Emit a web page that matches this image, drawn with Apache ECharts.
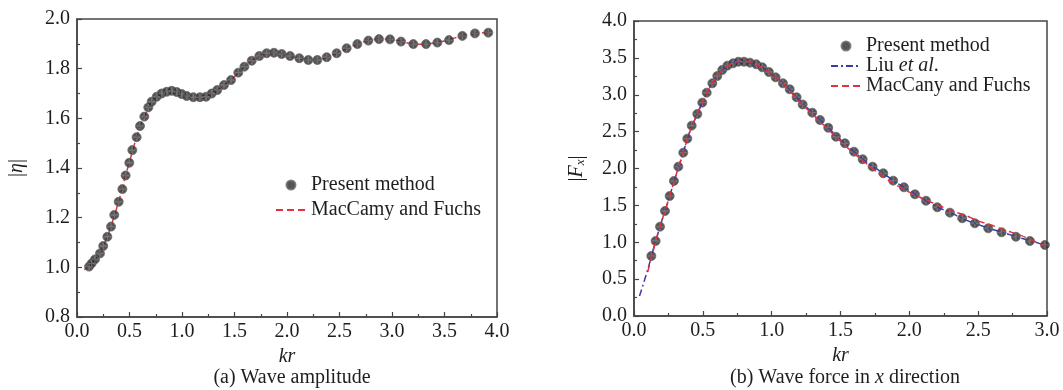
<!DOCTYPE html>
<html>
<head>
<meta charset="utf-8">
<script src="https://cdn.jsdelivr.net/npm/echarts@6/dist/echarts.min.js"></script>
<style>
  html, body { margin: 0; padding: 0; background: #fff; }
  #chart { width: 1063px; height: 390px; }
</style>
</head>
<body>
<div id="chart"></div>
<script>
// (a) wave amplitude |eta| vs kr
const ampKr = [0.115, 0.140, 0.171, 0.219, 0.250, 0.289, 0.324, 0.355, 0.397, 0.432, 0.463, 0.498, 0.527, 0.568, 0.600, 0.641, 0.679, 0.711, 0.759, 0.806, 0.854, 0.902, 0.950, 0.997, 1.045, 1.108, 1.171, 1.229, 1.283, 1.336, 1.400, 1.467, 1.536, 1.594, 1.664, 1.736, 1.806, 1.876, 1.949, 2.029, 2.117, 2.203, 2.289, 2.378, 2.473, 2.568, 2.670, 2.775, 2.876, 2.981, 3.086, 3.203, 3.324, 3.432, 3.543, 3.670, 3.790, 3.917]
const ampPresent = [1.003, 1.016, 1.032, 1.056, 1.086, 1.123, 1.164, 1.211, 1.264, 1.315, 1.370, 1.421, 1.472, 1.524, 1.569, 1.607, 1.644, 1.667, 1.687, 1.700, 1.707, 1.711, 1.706, 1.698, 1.690, 1.685, 1.685, 1.687, 1.700, 1.714, 1.734, 1.754, 1.784, 1.808, 1.832, 1.851, 1.862, 1.864, 1.859, 1.851, 1.842, 1.835, 1.835, 1.846, 1.862, 1.882, 1.899, 1.913, 1.919, 1.918, 1.909, 1.899, 1.899, 1.905, 1.915, 1.932, 1.942, 1.945]
const ampTheoryKr = [0.07, 0.15, 0.2, 0.25, 0.3, 0.35, 0.4, 0.45, 0.5, 0.55, 0.6, 0.65, 0.7, 0.75, 0.8, 0.85, 0.9, 0.95, 1.0, 1.1, 1.2, 1.3, 1.4, 1.5, 1.6, 1.7, 1.8, 1.9, 2.0, 2.1, 2.2, 2.3, 2.4, 2.5, 2.6, 2.7, 2.8, 2.9, 3.0, 3.1, 3.2, 3.3, 3.4, 3.5, 3.6, 3.7, 3.8, 3.92]
const ampTheory = [0.99, 1.02, 1.045, 1.085, 1.135, 1.20, 1.27, 1.35, 1.425, 1.50, 1.568, 1.615, 1.658, 1.684, 1.699, 1.707, 1.711, 1.707, 1.698, 1.686, 1.685, 1.704, 1.734, 1.768, 1.810, 1.842, 1.861, 1.864, 1.854, 1.844, 1.836, 1.836, 1.849, 1.868, 1.888, 1.904, 1.916, 1.920, 1.917, 1.908, 1.899, 1.898, 1.903, 1.911, 1.924, 1.935, 1.943, 1.946]

// (b) wave force |Fx| vs kr
const forceKr = [0.126, 0.157, 0.189, 0.225, 0.259, 0.290, 0.322, 0.358, 0.387, 0.419, 0.460, 0.496, 0.528, 0.569, 0.605, 0.641, 0.678, 0.719, 0.758, 0.799, 0.842, 0.888, 0.932, 0.980, 1.029, 1.082, 1.131, 1.181, 1.225, 1.295, 1.351, 1.411, 1.467, 1.532, 1.598, 1.661, 1.733, 1.811, 1.883, 1.961, 2.041, 2.121, 2.203, 2.295, 2.384, 2.476, 2.573, 2.670, 2.774, 2.876, 2.985]
const forcePresent = [0.814, 1.017, 1.211, 1.424, 1.627, 1.831, 2.025, 2.215, 2.405, 2.581, 2.739, 2.893, 3.028, 3.155, 3.254, 3.336, 3.394, 3.426, 3.448, 3.448, 3.435, 3.413, 3.372, 3.308, 3.236, 3.155, 3.074, 2.966, 2.868, 2.757, 2.658, 2.553, 2.431, 2.342, 2.228, 2.125, 2.025, 1.935, 1.835, 1.745, 1.650, 1.563, 1.474, 1.401, 1.325, 1.257, 1.189, 1.135, 1.075, 1.017, 0.963]
const liuKr = [0.04, 0.1, 0.15, 0.2, 0.25, 0.3, 0.35, 0.4, 0.45, 0.5, 0.55, 0.6, 0.65, 0.7, 0.75, 0.8, 0.85, 0.9, 0.95, 1.0, 1.1, 1.2, 1.3, 1.4, 1.5, 1.6, 1.7, 1.8, 1.9, 2.0, 2.1, 2.2, 2.3, 2.4, 2.5, 2.6, 2.7, 2.8, 2.9, 3.0]
const liuForce = [0.27, 0.63, 0.97, 1.28, 1.57, 1.88, 2.17, 2.47, 2.70, 2.91, 3.10, 3.24, 3.35, 3.41, 3.445, 3.45, 3.43, 3.40, 3.35, 3.28, 3.13, 2.93, 2.75, 2.57, 2.39, 2.225, 2.07, 1.95, 1.815, 1.70, 1.585, 1.48, 1.40, 1.31, 1.24, 1.175, 1.12, 1.06, 1.01, 0.95]
const macKr = [0.1, 0.15, 0.2, 0.25, 0.3, 0.35, 0.4, 0.45, 0.5, 0.55, 0.6, 0.65, 0.7, 0.75, 0.8, 0.85, 0.9, 0.95, 1.0, 1.1, 1.2, 1.3, 1.4, 1.5, 1.6, 1.7, 1.8, 1.9, 2.0, 2.1, 2.2, 2.3, 2.4, 2.5, 2.6, 2.7, 2.8, 2.9, 3.0]
const macForce = [0.60, 0.96, 1.28, 1.57, 1.88, 2.17, 2.47, 2.70, 2.91, 3.10, 3.24, 3.35, 3.41, 3.45, 3.46, 3.44, 3.40, 3.35, 3.28, 3.12, 2.91, 2.73, 2.55, 2.37, 2.20, 2.05, 1.90, 1.78, 1.68, 1.59, 1.51, 1.43, 1.37, 1.29, 1.23, 1.16, 1.10, 1.02, 0.94]

const pairs = (xs, ys) => xs.map((x, i) => [x, ys[i]])

const SERIF = 'Liberation Serif'
const AXIS = '#454545'
const TXT = '#1e1e1e'

const chart = echarts.init(document.getElementById('chart'), null, { renderer: 'canvas' })

function xAxisCfg(gridIndex, max) {
  return {
    type: 'value', gridIndex, min: 0, max, interval: 0.5,
    name: 'kr', nameLocation: 'middle', nameGap: 28,
    nameTextStyle: { fontFamily: SERIF, fontStyle: 'italic', fontSize: 20, color: TXT },
    axisLine: { lineStyle: { color: AXIS, width: 1.5 } },
    axisTick: { inside: true, length: 5, lineStyle: { color: AXIS, width: 1.2 } },
    minorTick: { show: true, splitNumber: 2, length: 3, lineStyle: { color: AXIS, width: 1.2 } },
    splitLine: { show: false },
    axisLabel: { margin: 5, fontFamily: SERIF, fontSize: 20, color: TXT, formatter: v => v.toFixed(1) }
  }
}

function yAxisCfg(gridIndex, min, max, interval, name, rich, gap) {
  return {
    type: 'value', gridIndex, min, max, interval,
    name, nameLocation: 'middle', nameGap: gap, nameRotate: 90,
    nameTextStyle: { fontFamily: SERIF, fontSize: 20, color: TXT, rich },
    axisLine: { lineStyle: { color: AXIS, width: 1.5 } },
    axisTick: { inside: true, length: 5, lineStyle: { color: AXIS, width: 1.2 } },
    minorTick: { show: true, splitNumber: 2, length: 3, lineStyle: { color: AXIS, width: 1.2 } },
    splitLine: { show: false },
    axisLabel: { margin: 7, fontFamily: SERIF, fontSize: 20, color: TXT, formatter: v => v.toFixed(1) }
  }
}

const dotStyle = { color: '#2a2a2a', borderColor: '#6a6a6a', borderWidth: 1 }
const crossSymbol = 'path://M4,0 H6 V4 H10 V6 H6 V10 H4 V6 H0 V4 H4 Z'
const richSerif = {
  n: { fontFamily: SERIF, fontSize: 20, color: TXT },
  i: { fontFamily: SERIF, fontSize: 20, fontStyle: 'italic', color: TXT }
}

const option = {
  animation: false,
  backgroundColor: '#fff',
  textStyle: { fontFamily: SERIF },
  grid: [
    { left: 77, top: 19, width: 420, height: 298, show: true, borderColor: AXIS, borderWidth: 1.5 },
    { left: 634, top: 21, width: 413, height: 295, show: true, borderColor: AXIS, borderWidth: 1.5 }
  ],
  title: [
    { text: '(a) Wave amplitude', left: 287, top: 363, textAlign: 'center',
      textStyle: { fontFamily: SERIF, fontSize: 20, fontWeight: 'normal', color: TXT } },
    { text: '{n|(b) Wave force in }{i|x}{n| direction}', left: 840, top: 363, textAlign: 'center',
      textStyle: { fontFamily: SERIF, fontSize: 20, fontWeight: 'normal', color: TXT, rich: richSerif } }
  ],
  legend: [
    {
      data: ['Present method', 'MacCamy and Fuchs'],
      orient: 'vertical', left: 270, top: 170, itemWidth: 30, itemHeight: 9, itemGap: 5,
      textStyle: { fontFamily: SERIF, fontSize: 20, color: TXT, lineHeight: 20 }
    },
    {
      data: ['Present method ', 'Liu et al.', 'MacCany and Fuchs'],
      orient: 'vertical', left: 825, top: 31, itemWidth: 30, itemHeight: 9, itemGap: 0,
      formatter: name => name === 'Liu et al.' ? '{n|Liu }{i|et al}{n|.}' : '{n|' + name + '}',
      textStyle: { fontFamily: SERIF, fontSize: 20, color: TXT, lineHeight: 20, rich: richSerif }
    }
  ],
  xAxis: [xAxisCfg(0, 4.0), xAxisCfg(1, 3.0)],
  yAxis: [
    yAxisCfg(0, 0.8, 2.0, 0.2, '{t||}{i|η}{t||}', {
      t: { fontFamily: SERIF, fontSize: 20, color: TXT },
      i: { fontFamily: SERIF, fontSize: 20, fontStyle: 'italic', color: TXT }
    }, 50),
    yAxisCfg(1, 0, 4.0, 0.5, '{t||}{i|F}{s|x}{t||}', {
      t: { fontFamily: SERIF, fontSize: 20, color: TXT },
      i: { fontFamily: SERIF, fontSize: 20, fontStyle: 'italic', color: TXT },
      s: { fontFamily: SERIF, fontSize: 13, fontStyle: 'italic', color: TXT, verticalAlign: 'bottom', padding: [8, 0, 0, 0] }
    }, 47)
  ],
  series: [
    {
      name: 'MacCamy and Fuchs', type: 'line', xAxisIndex: 0, yAxisIndex: 0,
      data: pairs(ampTheoryKr, ampTheory), smooth: 0.3, symbol: 'none',
      itemStyle: { color: '#e2313a', opacity: 0 },
      lineStyle: { color: '#e2313a', width: 1.5, type: [7, 4] }, z: 2
    },
    {
      name: 'Present method', type: 'scatter', xAxisIndex: 0, yAxisIndex: 0,
      data: pairs(ampKr, ampPresent), symbol: 'circle', symbolSize: 9,
      itemStyle: dotStyle, z: 3
    },
    {
      name: 'crossA', type: 'scatter', xAxisIndex: 0, yAxisIndex: 0, silent: true,
      data: pairs(ampKr, ampPresent), symbol: crossSymbol, symbolSize: 7,
      itemStyle: { color: 'rgba(160,160,160,0.55)' }, z: 4
    },
    {
      name: 'Present method ', type: 'scatter', xAxisIndex: 1, yAxisIndex: 1,
      data: pairs(forceKr, forcePresent), symbol: 'circle', symbolSize: 9,
      itemStyle: dotStyle, z: 2
    },
    {
      name: 'crossB', type: 'scatter', xAxisIndex: 1, yAxisIndex: 1, silent: true,
      data: pairs(forceKr, forcePresent), symbol: crossSymbol, symbolSize: 7,
      itemStyle: { color: 'rgba(160,160,160,0.55)' }, z: 3
    },
    {
      name: 'Liu et al.', type: 'line', xAxisIndex: 1, yAxisIndex: 1,
      data: pairs(liuKr, liuForce), smooth: 0.3, symbol: 'none',
      itemStyle: { color: '#3b3ba6', opacity: 0 },
      lineStyle: { color: '#3b3ba6', width: 1.5, type: [7, 3, 2, 3] }, z: 4
    },
    {
      name: 'MacCany and Fuchs', type: 'line', xAxisIndex: 1, yAxisIndex: 1,
      data: pairs(macKr, macForce), smooth: 0.3, symbol: 'none',
      itemStyle: { color: '#e2313a', opacity: 0 },
      lineStyle: { color: '#e2313a', width: 1.5, type: [7, 4] }, z: 4
    }
  ]
}

chart.setOption(option)
</script>
</body>
</html>
